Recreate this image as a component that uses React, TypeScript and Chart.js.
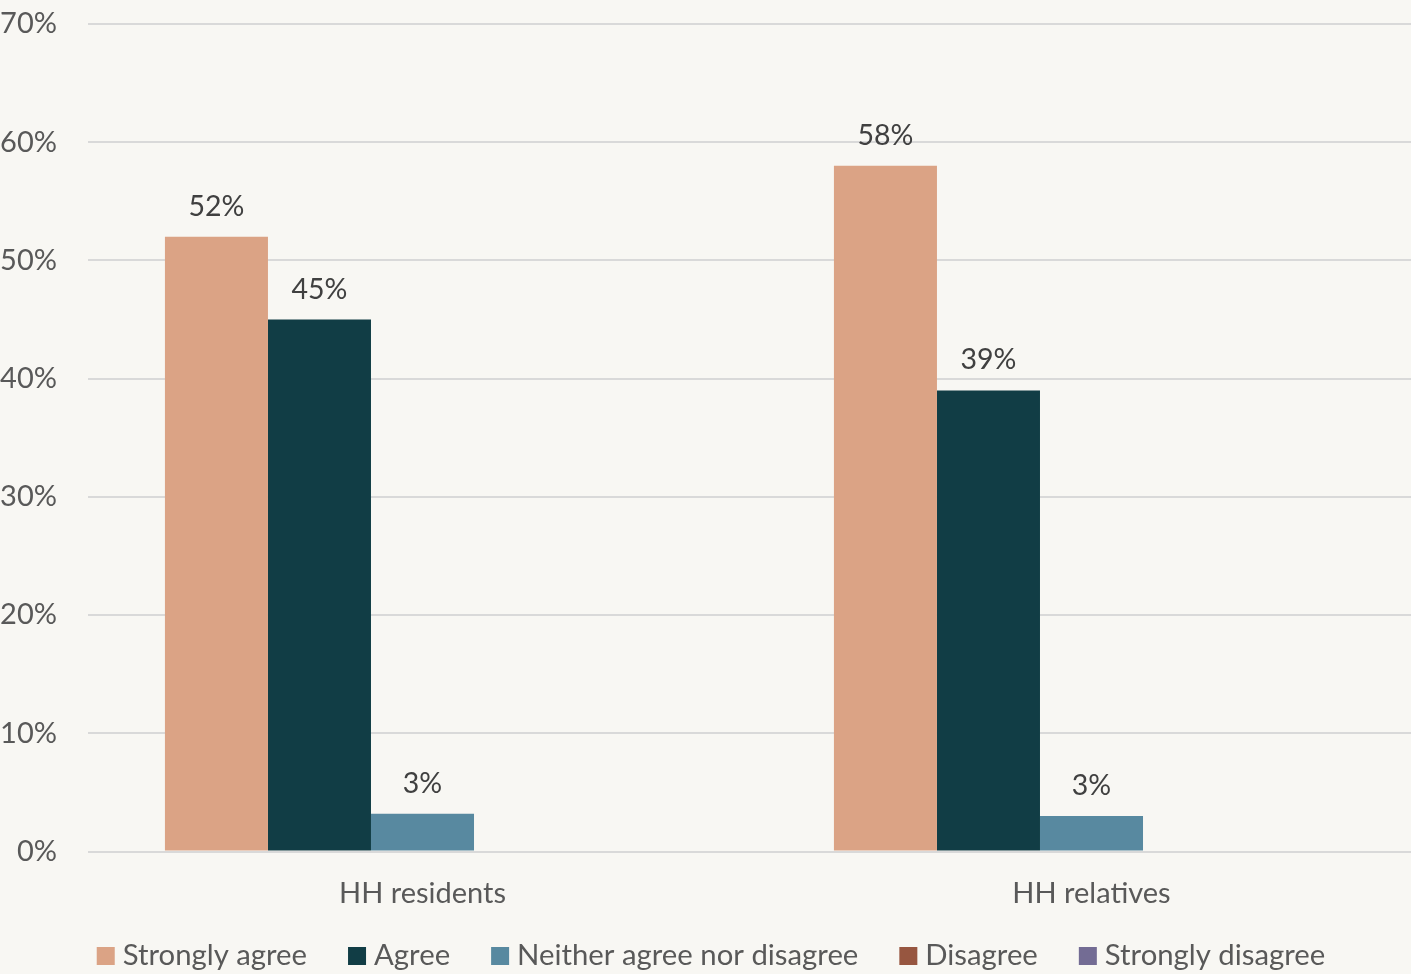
import React, { useEffect, useRef } from "react";
import { Chart, registerables } from "chart.js";

Chart.register(...registerables);

const categories = ["HH residents", "HH relatives"];
const seriesNames = [
  "Strongly agree",
  "Agree",
  "Neither agree nor disagree",
  "Disagree",
  "Strongly disagree",
];
const stronglyAgree = [52, 58];
const agree = [45, 39];
const neither = [3.2, 3.0];
const disagree = [0, 0];
const stronglyDisagree = [0, 0];
const seriesColors = ["#DBA385", "#113D45", "#5889A0", "#975640", "#736C94"];
const yMin = 0;
const yMax = 70;
const yStep = 10;

const FONT = "Lato";
const BG = "#F8F7F3";

const dataLabelPlugin = {
  id: "dataLabels",
  afterDatasetsDraw(chart: any) {
    const ctx = chart.ctx;
    ctx.save();
    ctx.font = `28.5px ${FONT}`;
    ctx.fillStyle = "#404040";
    ctx.textAlign = "center";
    ctx.textBaseline = "alphabetic";
    chart.data.datasets.forEach((ds: any, di: number) => {
      const meta = chart.getDatasetMeta(di);
      meta.data.forEach((bar: any, i: number) => {
        const v = ds.data[i];
        if (!v) return;
        ctx.fillText(`${Math.round(v)}%`, bar.x, bar.y - 21);
      });
    });
    ctx.restore();
  },
};

const legendPlugin = {
  id: "customLegend",
  afterDraw(chart: any) {
    const ctx = chart.ctx;
    ctx.save();
    ctx.font = `29.3px ${FONT}`;
    ctx.textBaseline = "alphabetic";
    ctx.textAlign = "left";
    const box = 18;
    const gapText = 8;
    const gapItem = 41;
    const widths = seriesNames.map((n) => ctx.measureText(n).width);
    const total =
      widths.reduce((a, w) => a + box + gapText + w, 0) +
      gapItem * (seriesNames.length - 1);
    let x = 711 - total / 2;
    const boxTop = 947;
    const baseline = 965;
    seriesNames.forEach((name, i) => {
      ctx.fillStyle = seriesColors[i];
      ctx.fillRect(x, boxTop, box, box);
      ctx.fillStyle = "#595959";
      ctx.fillText(name, x + box + gapText, baseline);
      x += box + gapText + widths[i] + gapItem;
    });
    ctx.restore();
  },
};

const bgPlugin = {
  id: "bg",
  beforeDraw(chart: any) {
    const ctx = chart.ctx;
    ctx.save();
    ctx.fillStyle = BG;
    ctx.fillRect(0, 0, chart.width, chart.height);
    ctx.restore();
  },
};

export default function App() {
  const ref = useRef<HTMLCanvasElement | null>(null);

  useEffect(() => {
    if (!ref.current) return;
    const seriesData = [stronglyAgree, agree, neither, disagree, stronglyDisagree];
    const chart = new Chart(ref.current, {
      type: "bar",
      data: {
        labels: categories,
        datasets: seriesNames.map((name, i) => ({
          label: name,
          data: seriesData[i],
          backgroundColor: seriesColors[i],
          borderWidth: 0,
          barPercentage: 1,
          categoryPercentage: 0.77,
        })),
      },
      options: {
        animation: false,
        responsive: false,
        devicePixelRatio: 1,
        layout: { padding: { top: 24, left: 0, right: 0, bottom: 0 } },
        plugins: {
          legend: { display: false },
          tooltip: { enabled: false },
        },
        scales: {
          x: {
            grid: { display: false, drawTicks: false },
            border: { display: false },
            ticks: {
              color: "#595959",
              font: { family: FONT, size: 29 },
              padding: 25,
            },
            afterFit: (scale: any) => {
              scale.height = 122.5;
              scale.paddingLeft = 0;
              scale.paddingRight = 0;
            },
          },
          y: {
            min: yMin,
            max: yMax,
            grid: { color: "#D9D9D9", lineWidth: 2, drawTicks: false },
            border: { display: false },
            ticks: {
              stepSize: yStep,
              color: "#595959",
              font: { family: FONT, size: 29 },
              padding: 31,
              callback: (v: any) => `${v}%`,
            },
            afterFit: (scale: any) => {
              scale.width = 88;
              scale.paddingTop = 0;
              scale.paddingBottom = 0;
            },
          },
        },
      },
      plugins: [bgPlugin, dataLabelPlugin, legendPlugin],
    });
    return () => chart.destroy();
  }, []);

  return (
    <div
      style={{
        position: "absolute",
        left: 0,
        top: 0,
        width: 1411,
        height: 974,
        overflow: "hidden",
        background: BG,
      }}
    >
      <canvas
        ref={ref}
        width={1426}
        height={974}
        style={{ display: "block", width: 1426, height: 974 }}
      />
    </div>
  );
}
